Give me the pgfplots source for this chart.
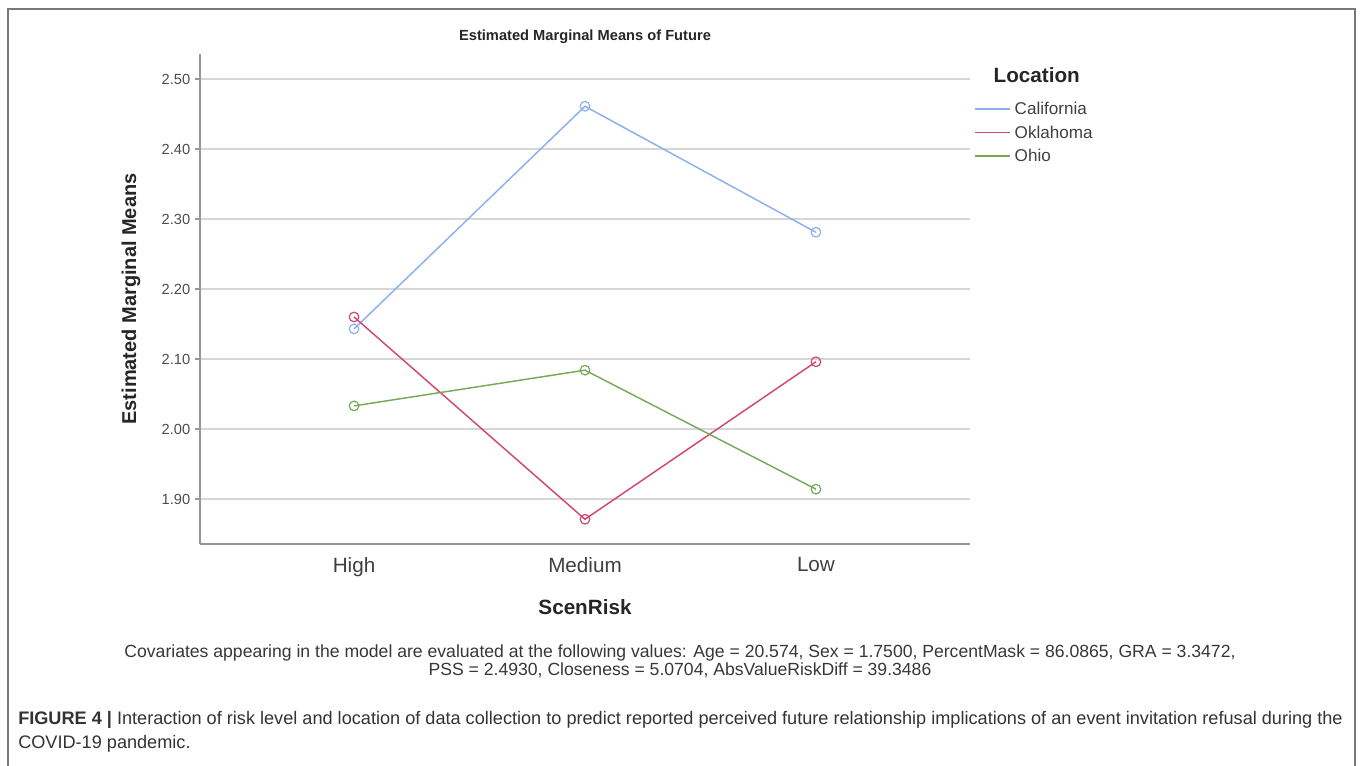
\documentclass[border=0pt]{standalone}
\usepackage{pgfplots}
\pgfplotsset{compat=1.18}
\usepackage{fontspec}
\setmainfont{Liberation Sans}
\definecolor{calc}{RGB}{140,176,238}
\definecolor{okc}{RGB}{208,72,112}
\definecolor{ohc}{RGB}{118,170,88}
\definecolor{gridc}{RGB}{214,214,214}
\definecolor{axc}{RGB}{150,150,150}
\definecolor{txt}{RGB}{55,55,55}
\definecolor{framec}{RGB}{120,120,120}
\pgfplotstableread{
x y
0 2.143
1 2.461
2 2.281
}\cal
\pgfplotstableread{
x y
0 2.160
1 1.871
2 2.096
}\okl
\pgfplotstableread{
x y
0 2.033
1 2.084
2 1.914
}\ohi
\begin{document}
\begin{tikzpicture}
\path[use as bounding box] (0,0) rectangle (1022.25pt,574.5pt);
\begin{scope}[x=0.75pt,y=-0.75pt,shift={(0pt,574.5pt)}]
\draw[framec,line width=0.8pt] (8,800) -- (8,9) -- (1355,9) -- (1355,800);
\node[anchor=west,font=\fontsize{15.5pt}{18pt}\selectfont\bfseries,text=black!85] at (989,75) {Location};
\node[anchor=center,font=\fontsize{13.2pt}{15pt}\selectfont,text=txt] at (680,653) {Covariates appearing in the model are evaluated at the following values: Age = 20.574, Sex = 1.7500, PercentMask = 86.0865, GRA = 3.3472,};
\node[anchor=center,font=\fontsize{13.2pt}{15pt}\selectfont,text=txt] at (680,670) {PSS = 2.4930, Closeness = 5.0704, AbsValueRiskDiff = 39.3486};
\node[anchor=base west,font=\fontsize{13.6pt}{16pt}\selectfont,text=black!80,inner sep=0pt] at (18,725) {\textbf{FIGURE 4} \textbf{|} Interaction of risk level and location of data collection to predict reported perceived future relationship implications of an event invitation refusal during the};
\node[anchor=base west,font=\fontsize{13.6pt}{16pt}\selectfont,text=black!80,inner sep=0pt] at (18,749) {COVID-19 pandemic.};
\end{scope}
\begin{axis}[
  at={(150pt,166.5pt)}, anchor=south west,
  scale only axis, width=577.5pt, height=367.5pt,
  xmin=-0.667, xmax=2.667, ymin=1.8357, ymax=2.5357,
  axis x line=bottom, axis y line=left,
  axis line style={-, axc, line width=1.1pt},
  xtick={0,1,2}, xticklabels={High,Medium,Low},
  xtick style={draw=none},
  ytick={1.9,2.0,2.1,2.2,2.3,2.4,2.5},
  /pgf/number format/fixed, /pgf/number format/fixed zerofill, /pgf/number format/precision=2,
  ytick style={axc, line width=1pt},
  tick align=outside, major tick length=3.75pt,
  /pgf/number format/assume math mode=true,
  yticklabel style={font=\fontsize{11pt}{13pt}\selectfont, text=black!70},
  xticklabel style={font=\fontsize{15.5pt}{18pt}\selectfont, text=black!75, yshift=-3pt},
  ymajorgrids, grid style={gridc, line width=1.1pt},
  every axis title shift=0pt,
  title={Estimated Marginal Means of Future},
  title style={at={(axis description cs:0.5,1.0347)}, anchor=center, font=\fontsize{11pt}{13pt}\selectfont\bfseries, text=black!85},
  xlabel={ScenRisk},
  xlabel style={at={(axis description cs:0.5,-0.1286)}, anchor=center, font=\fontsize{15.5pt}{18pt}\selectfont\bfseries, text=black!85},
  ylabel={Estimated Marginal Means},
  ylabel style={at={(axis description cs:-0.0896,0.5)}, anchor=center, font=\fontsize{15pt}{18pt}\selectfont\bfseries, text=black!85},
  legend style={at={(axis description cs:1.0,0.906)}, anchor=north west, draw=none, fill=none,
    font=\fontsize{12.8pt}{14pt}\selectfont, text=black!75, row sep=8.6pt, column sep=3pt,
    nodes={inner sep=0pt, text height=9pt, text depth=0pt}},
  legend cell align=left,
  legend image code/.code={\draw[#1] (0pt,0pt) -- (26.25pt,0pt);},
  clip=false,
]
\addplot[calc, line width=1.1pt, mark=o, mark size=3.6pt, mark options={line width=0.9pt}] table[x=x,y=y] {\cal};
\addlegendentry{California}
\addplot[okc, line width=1.1pt, mark=o, mark size=3.6pt, mark options={line width=0.9pt}] table[x=x,y=y] {\okl};
\addlegendentry{Oklahoma}
\addplot[ohc, line width=1.1pt, mark=o, mark size=3.6pt, mark options={line width=0.9pt}] table[x=x,y=y] {\ohi};
\addlegendentry{Ohio}
\end{axis}
\end{tikzpicture}
\end{document}
